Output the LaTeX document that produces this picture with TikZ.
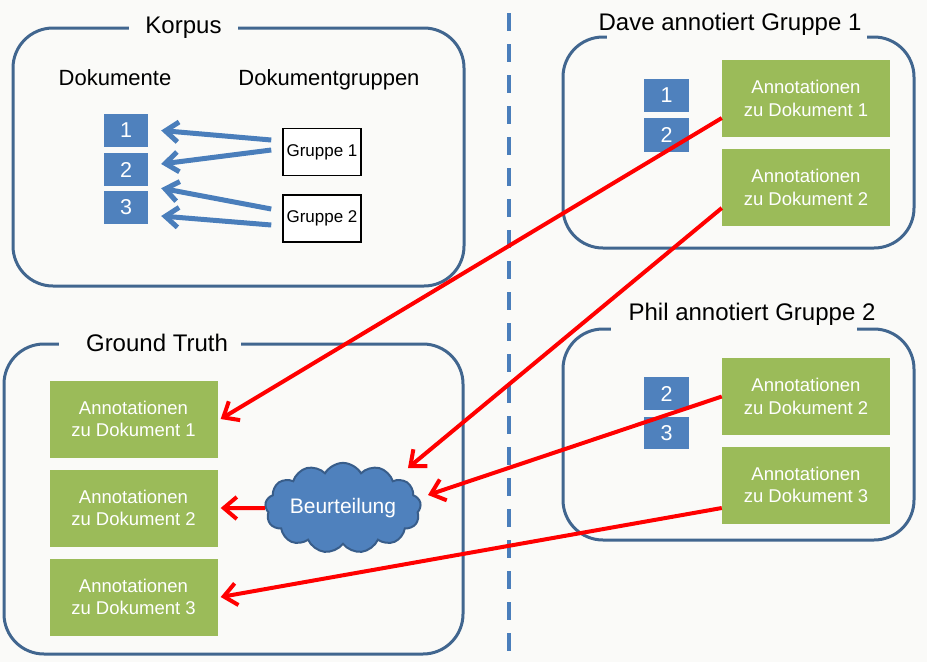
\documentclass[tikz,border=0pt]{standalone}
\usepackage{fontspec}
\setmainfont{Liberation Sans}
\usetikzlibrary{arrows.meta,shapes.symbols}
\definecolor{bg}{HTML}{FAFAF8}
\definecolor{framec}{HTML}{41668F}
\definecolor{docblue}{HTML}{4F81BD}
\definecolor{arrblue}{HTML}{4A7EBB}
\definecolor{anngreen}{HTML}{9BBB59}
\definecolor{cloudedge}{HTML}{385D8A}
\definecolor{dashc}{HTML}{4A7EBB}
\tikzset{
  framebox/.style={draw=framec, line width=3pt, rounded corners=40pt, inner sep=0},
  titletext/.style={anchor=base, inner sep=0, font=\fontsize{24}{28}\selectfont},
  headtext/.style={anchor=base, inner sep=0, font=\fontsize{22}{26}\selectfont},
  docbox/.style={fill=docblue, text=white, minimum width=44pt, minimum height=33pt, inner sep=0, font=\fontsize{21.5}{25}\selectfont},
  grpbox/.style={draw=black, line width=1.5pt, fill=white, minimum width=78pt, minimum height=47pt, inner sep=0, font=\fontsize{17}{20}\selectfont},
  annbox/.style={fill=anngreen, text=white, minimum width=168pt, minimum height=77pt, align=center, inner sep=0, font=\fontsize{18.5}{22.7}\selectfont},
  bluearr/.style={draw=arrblue, line width=5pt, -{Straight Barb[length=13pt,width=20pt]}},
  redarr/.style={draw=red, line width=4pt, -{Straight Barb[length=13pt,width=22pt]}},
  dashline/.style={draw=dashc, line width=4.5pt, dash pattern=on 18pt off 13pt},
}
\begin{document}
\begin{tikzpicture}[x=1pt,y=-1pt]
\fill[bg] (0,0) rectangle (927,662);
\useasboundingbox (0,0) rectangle (927,662);

% dashed divider
\draw[dashline] (509,13) -- (509,662);

% frames
\node[framebox, minimum width=451pt, minimum height=258pt] (korpus) at (238.5,157) {};
\node[framebox, minimum width=459pt, minimum height=310pt] (gt) at (233.5,499) {};
\node[framebox, minimum width=351pt, minimum height=211pt] (dave) at (738.5,142.5) {};
\node[framebox, minimum width=351pt, minimum height=211pt] (phil) at (738.5,434.5) {};

% gaps in frame tops
\fill[bg] (129,18) rectangle (238,38);
\fill[bg] (59,334) rectangle (241,354);
\fill[bg] (607,27) rectangle (867,47);
\fill[bg] (611,319) rectangle (857,339);

% titles
\node[titletext] (tkorpus) at (183.5,33) {Korpus};
\node[titletext] (tgt) at (157,351) {Ground Truth};
\node[titletext] (tdave) at (730,30) {Dave annotiert Gruppe 1};
\node[titletext] (tphil) at (752,320) {Phil annotiert Gruppe 2};

% Korpus content
\node[headtext] (hdok) at (115,85) {Dokumente};
\node[headtext] (hgrp) at (329,85) {Dokumentgruppen};
\node[docbox] (d1) at (126,130.5) {1};
\node[docbox] (d2) at (126,169.5) {2};
\node[docbox] (d3) at (126,207.5) {3};
\node[grpbox] (g1) at (322,152) {Gruppe 1};
\node[grpbox] (g2) at (322,218.5) {Gruppe 2};

\draw[bluearr] ([xshift=-11pt,yshift=12pt]g1.west) -- ([xshift=13pt]d1.east);
\draw[bluearr] ([xshift=-11pt,yshift=2pt]g1.west) -- ([xshift=13pt,yshift=5.5pt]d2.east);
\draw[bluearr] ([xshift=-11pt,yshift=9.5pt]g2.west) -- ([xshift=13pt,yshift=-2pt]d2.south east);
\draw[bluearr] ([xshift=-11pt,yshift=-6.5pt]g2.west) -- ([xshift=13pt,yshift=-8.5pt]d3.east);

% Ground truth content
\node[annbox] (ga1) at (133.5,419) {Annotationen\\zu Dokument 1};
\node[annbox] (ga2) at (133.5,508) {Annotationen\\zu Dokument 2};
\node[annbox] (ga3) at (133.5,597) {Annotationen\\zu Dokument 3};
\node[cloud, cloud puffs=13, cloud puff arc=120, aspect=2.1, draw=cloudedge, line width=2pt, fill=docblue, text=white,
      minimum width=145pt, minimum height=72pt, inner sep=0, font=\fontsize{21}{25}\selectfont] (cloud) at (343,508) {Beurteilung};
\coordinate (c2) at (408,468);
\coordinate (c3) at (428,495);

% Dave content
\node[docbox, minimum width=45pt] (dd1) at (666.5,95.5) {1};
\node[docbox, minimum width=45pt, minimum height=34pt] (dd2) at (666.5,135) {2};
\node[annbox] (da1) at (806,98.5) {Annotationen\\zu Dokument 1};
\node[annbox] (da2) at (806,187.5) {Annotationen\\zu Dokument 2};

% Phil content
\node[docbox, minimum width=45pt] (pd2) at (666.5,393.5) {2};
\node[docbox, minimum width=45pt, minimum height=32pt] (pd3) at (666.5,433) {3};
\node[annbox] (pa2) at (806,396.5) {Annotationen\\zu Dokument 2};
\node[annbox] (pa3) at (806,485) {Annotationen\\zu Dokument 3};

% red arrows
\draw[redarr] ([yshift=-19.5pt]da1.west) -- ([xshift=3pt]ga1.east);
\draw[redarr] ([yshift=-20.5pt]da2.west) -- (c2);
\draw[redarr] (pa2.west) -- (c3);
\draw[redarr] ([yshift=-23pt]pa3.west) -- ([xshift=3pt]ga3.east);
\draw[redarr] (cloud.west) -- ([xshift=3pt]ga2.east);
\end{tikzpicture}
\end{document}
